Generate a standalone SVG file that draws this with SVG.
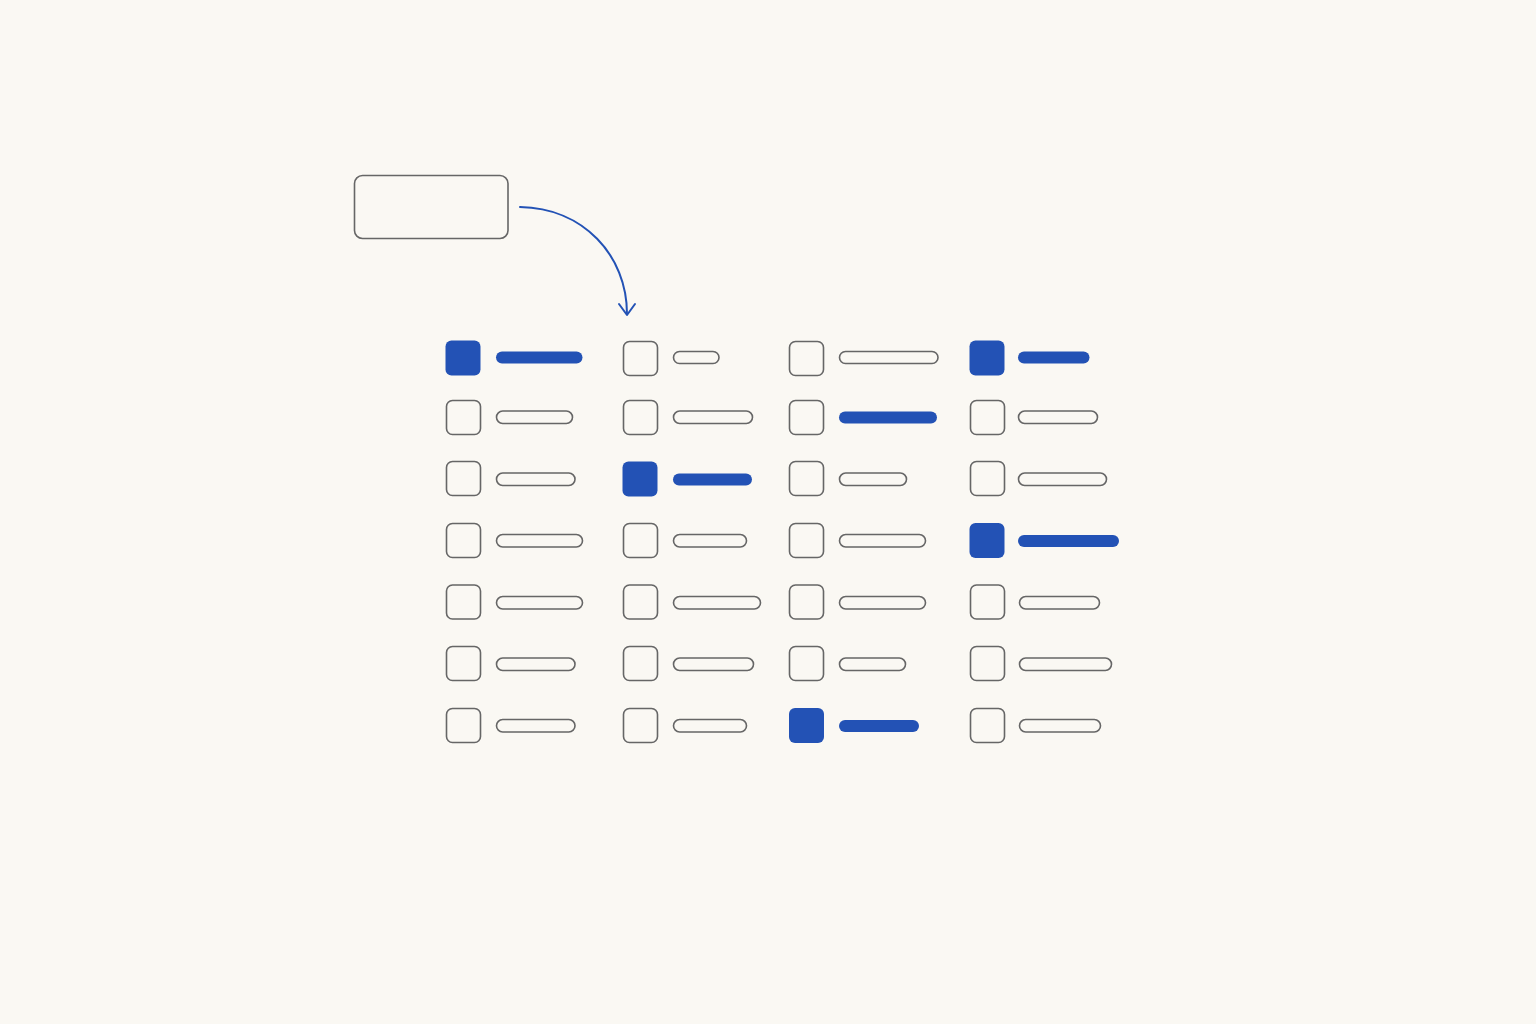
<svg xmlns="http://www.w3.org/2000/svg" width="1536" height="1024" viewBox="0 0 1536 1024">
<defs>
<style>
.bg{fill:#faf8f3}
.box{fill:none;stroke:#666;stroke-width:1.6}
.chk{fill:none;stroke:#666;stroke-width:1.6}
.chkOn{fill:#2352b5}
.bar{fill:none;stroke:#666;stroke-width:1.6}
.barOn{fill:#2352b5}
.conn{fill:none;stroke:#2352b5;stroke-width:2;stroke-linecap:round;stroke-linejoin:round}
</style>
</defs>
<rect class="bg" x="0" y="0" width="1536" height="1024"/>
<g id="source"><rect class="box" x="354.5" y="175.5" width="153.5" height="63" rx="8"/></g>
<g id="connectors">
<path class="conn" d="M520 207 C 583 208 627 255 627 314"/>
<path class="conn" d="M619 304 L627 315 L635 304"/>
</g>
<g id="c1r1"><rect class="chkOn" x="445.5" y="340.5" width="35" height="35" rx="6"/><rect class="barOn" x="496" y="351.5" width="86.5" height="12" rx="6"/></g>
<g id="c2r1"><rect class="chk" x="623.5" y="341.5" width="34" height="34" rx="6"/><rect class="bar" x="673.5" y="351.5" width="45.5" height="12" rx="6"/></g>
<g id="c3r1"><rect class="chk" x="789.5" y="341.5" width="34" height="34" rx="6"/><rect class="bar" x="839.5" y="351.5" width="98.5" height="12" rx="6"/></g>
<g id="c4r1"><rect class="chkOn" x="969.5" y="340.5" width="35" height="35" rx="6"/><rect class="barOn" x="1018" y="351.5" width="71.5" height="12" rx="6"/></g>

<g id="c1r2"><rect class="chk" x="446.5" y="400.5" width="34" height="34" rx="6"/><rect class="bar" x="496.5" y="411" width="76" height="12.5" rx="6.2"/></g>
<g id="c2r2"><rect class="chk" x="623.5" y="400.5" width="34" height="34" rx="6"/><rect class="bar" x="673.5" y="411" width="79" height="12.5" rx="6.2"/></g>
<g id="c3r2"><rect class="chk" x="789.5" y="400.5" width="34" height="34" rx="6"/><rect class="barOn" x="839" y="411.5" width="98" height="12" rx="6"/></g>
<g id="c4r2"><rect class="chk" x="970.5" y="400.5" width="34" height="34" rx="6"/><rect class="bar" x="1018.5" y="411" width="79" height="12.5" rx="6.2"/></g>

<g id="c1r3"><rect class="chk" x="446.5" y="461.5" width="34" height="34" rx="6"/><rect class="bar" x="496.5" y="473" width="78.5" height="12.5" rx="6.2"/></g>
<g id="c2r3"><rect class="chkOn" x="622.5" y="461.5" width="35" height="35" rx="6"/><rect class="barOn" x="673" y="473.5" width="79" height="12" rx="6"/></g>
<g id="c3r3"><rect class="chk" x="789.5" y="461.5" width="34" height="34" rx="6"/><rect class="bar" x="839.5" y="473" width="67" height="12.5" rx="6.2"/></g>
<g id="c4r3"><rect class="chk" x="970.5" y="461.5" width="34" height="34" rx="6"/><rect class="bar" x="1018.5" y="473" width="88" height="12.5" rx="6.2"/></g>

<g id="c1r4"><rect class="chk" x="446.5" y="523.5" width="34" height="34" rx="6"/><rect class="bar" x="496.5" y="534.5" width="86" height="12.5" rx="6.2"/></g>
<g id="c2r4"><rect class="chk" x="623.5" y="523.5" width="34" height="34" rx="6"/><rect class="bar" x="673.5" y="534.5" width="73" height="12.5" rx="6.2"/></g>
<g id="c3r4"><rect class="chk" x="789.5" y="523.5" width="34" height="34" rx="6"/><rect class="bar" x="839.5" y="534.5" width="86" height="12.5" rx="6.2"/></g>
<g id="c4r4"><rect class="chkOn" x="969.5" y="523" width="35" height="35" rx="6"/><rect class="barOn" x="1018" y="535" width="101" height="12" rx="6"/></g>

<g id="c1r5"><rect class="chk" x="446.5" y="585" width="34" height="34" rx="6"/><rect class="bar" x="496.5" y="596.5" width="86" height="12.5" rx="6.2"/></g>
<g id="c2r5"><rect class="chk" x="623.5" y="585" width="34" height="34" rx="6"/><rect class="bar" x="673.5" y="596.5" width="87" height="12.5" rx="6.2"/></g>
<g id="c3r5"><rect class="chk" x="789.5" y="585" width="34" height="34" rx="6"/><rect class="bar" x="839.5" y="596.5" width="86" height="12.5" rx="6.2"/></g>
<g id="c4r5"><rect class="chk" x="970.5" y="585" width="34" height="34" rx="6"/><rect class="bar" x="1019.5" y="596.5" width="80" height="12.5" rx="6.2"/></g>

<g id="c1r6"><rect class="chk" x="446.5" y="646.5" width="34" height="34" rx="6"/><rect class="bar" x="496.5" y="658" width="78.5" height="12.5" rx="6.2"/></g>
<g id="c2r6"><rect class="chk" x="623.5" y="646.5" width="34" height="34" rx="6"/><rect class="bar" x="673.5" y="658" width="80" height="12.5" rx="6.2"/></g>
<g id="c3r6"><rect class="chk" x="789.5" y="646.5" width="34" height="34" rx="6"/><rect class="bar" x="839.5" y="658" width="66" height="12.5" rx="6.2"/></g>
<g id="c4r6"><rect class="chk" x="970.5" y="646.5" width="34" height="34" rx="6"/><rect class="bar" x="1019.5" y="658" width="92" height="12.5" rx="6.2"/></g>

<g id="c1r7"><rect class="chk" x="446.5" y="708.5" width="34" height="34" rx="6"/><rect class="bar" x="496.5" y="719.5" width="78.5" height="12.5" rx="6.2"/></g>
<g id="c2r7"><rect class="chk" x="623.5" y="708.5" width="34" height="34" rx="6"/><rect class="bar" x="673.5" y="719.5" width="73" height="12.5" rx="6.2"/></g>
<g id="c3r7"><rect class="chkOn" x="789" y="708" width="35" height="35" rx="6"/><rect class="barOn" x="839" y="720" width="80" height="12" rx="6"/></g>
<g id="c4r7"><rect class="chk" x="970.5" y="708.5" width="34" height="34" rx="6"/><rect class="bar" x="1019.5" y="719.5" width="81" height="12.5" rx="6.2"/></g>
</svg>
